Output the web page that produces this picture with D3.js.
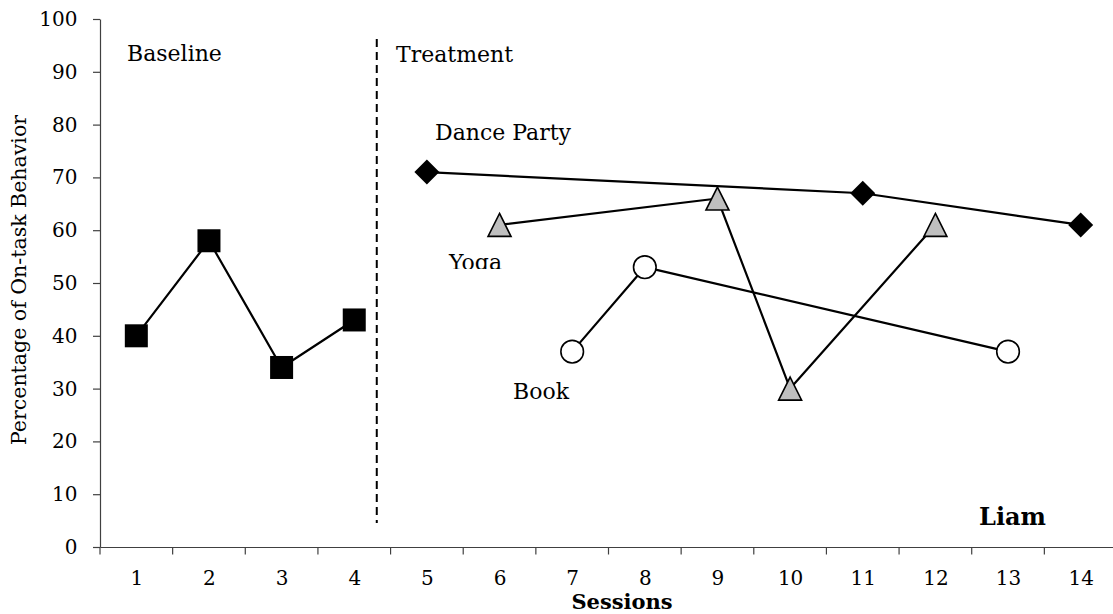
<!DOCTYPE html>
<html>
<head>
<meta charset="utf-8">
<script src="https://cdn.jsdelivr.net/npm/d3@7"></script>
<style>
  html, body { margin: 0; padding: 0; background: #fff; }
  svg { display: block; }
</style>
</head>
<body>
<svg id="chart" width="1113" height="614"></svg>
<script>
// ---- data ----
const sessions = [1,2,3,4,5,6,7,8,9,10,11,12,13,14];
const yTicks = [0,10,20,30,40,50,60,70,80,90,100];

const baselineSessions = [1, 2, 3, 4];
const baselineValues   = [40, 58, 34, 43];

const danceSessions = [5, 11, 14];
const danceValues   = [71, 67, 61];

const yogaSessions = [6, 9, 10, 12];
const yogaValues   = [61, 66, 30, 61];

const bookSessions = [7, 8, 13];
const bookValues   = [37, 53, 37];

const phaseChangeSession = 4.31;

// ---- layout ----
const plotLeft = 100, plotRight = 1117, plotTop = 19, plotBottom = 547;
const FONT = "'DejaVu Serif', serif";

const svg = d3.select("#chart");

const x = d3.scaleLinear().domain([0.5, 14.5]).range([plotLeft, plotRight]);
const y = d3.scaleLinear().domain([0, 100]).range([plotBottom, plotTop]);

const zip = (xs, vs) => xs.map((s, i) => ({s, v: vs[i]}));

// ---- axes ----
const axisColor = "#404040";

const yAxis = svg.append("g")
  .attr("transform", `translate(${plotLeft},0)`)
  .call(d3.axisLeft(y).tickValues(yTicks).tickSize(7).tickSizeOuter(0).tickPadding(15.5));
yAxis.select(".domain").attr("stroke", axisColor).attr("stroke-width", 1.2);
yAxis.selectAll(".tick line").attr("stroke", axisColor).attr("stroke-width", 1.2);
yAxis.selectAll(".tick text").attr("font-family", FONT).attr("font-size", 20).attr("fill", "#000");

const xAxis = svg.append("g")
  .attr("transform", `translate(0,${plotBottom})`)
  .call(d3.axisBottom(x).tickValues(sessions).tickSize(0).tickSizeOuter(0).tickPadding(24).tickFormat(d3.format("d")));
xAxis.select(".domain").attr("stroke", axisColor).attr("stroke-width", 1.2);
xAxis.selectAll(".tick text").attr("font-family", FONT).attr("font-size", 20).attr("fill", "#000");

// tick marks between categories
const boundaries = d3.range(0, sessions.length + 1).map(i => sessions[0] - 0.5 + i);
svg.append("g").selectAll("line").data(boundaries).join("line")
  .attr("x1", d => x(d)).attr("x2", d => x(d))
  .attr("y1", plotBottom).attr("y2", plotBottom + 7.5)
  .attr("stroke", axisColor).attr("stroke-width", 1.2);

// ---- phase change line ----
svg.append("line")
  .attr("x1", x(phaseChangeSession)).attr("x2", x(phaseChangeSession))
  .attr("y1", 39).attr("y2", 523)
  .attr("stroke", "#000").attr("stroke-width", 2)
  .attr("stroke-dasharray", "8,5");

// ---- series ----
const line = d3.line().x(d => x(d.s)).y(d => y(d.v));

const baseData  = zip(baselineSessions, baselineValues);
const danceData = zip(danceSessions, danceValues);
const yogaData  = zip(yogaSessions, yogaValues);
const bookData  = zip(bookSessions, bookValues);

[baseData, danceData, yogaData, bookData].forEach(data => {
  svg.append("path").datum(data)
    .attr("d", line)
    .attr("fill", "none")
    .attr("stroke", "#000")
    .attr("stroke-width", 2.2)
    .attr("stroke-linejoin", "round");
});

// markers
svg.append("g").selectAll("rect").data(baseData).join("rect")
  .attr("x", d => x(d.s) - 11.5).attr("y", d => y(d.v) - 11.5)
  .attr("width", 23).attr("height", 23)
  .attr("fill", "#000");

svg.append("g").selectAll("path").data(danceData).join("path")
  .attr("transform", d => `translate(${x(d.s)},${y(d.v)})`)
  .attr("d", "M0,-12.5L12.5,0L0,12.5L-12.5,0Z")
  .attr("fill", "#000");

svg.append("g").selectAll("path").data(yogaData).join("path")
  .attr("transform", d => `translate(${x(d.s)},${y(d.v)})`)
  .attr("d", "M0,-11.5L11.5,11.5L-11.5,11.5Z")
  .attr("fill", "#bfbfbf")
  .attr("stroke", "#000").attr("stroke-width", 1.6)
  .attr("stroke-linejoin", "miter");

svg.append("g").selectAll("circle").data(bookData).join("circle")
  .attr("cx", d => x(d.s)).attr("cy", d => y(d.v))
  .attr("r", 11.3)
  .attr("fill", "#fff")
  .attr("stroke", "#000").attr("stroke-width", 1.6);

// ---- annotations ----
const defs = svg.append("defs");
defs.append("clipPath").attr("id", "yogaClip")
  .append("rect").attr("x", 440).attr("y", 240).attr("width", 80).attr("height", 29);

const notes = [
  {t: "Baseline",    x: 127, y: 61,  size: 22, weight: "normal"},
  {t: "Treatment",   x: 396, y: 62,  size: 22, weight: "normal"},
  {t: "Dance Party", x: 435, y: 140, size: 22, weight: "normal"},
  {t: "Yoga",        x: 449, y: 270, size: 22, weight: "normal", clip: "url(#yogaClip)"},
  {t: "Book",        x: 513, y: 399, size: 22, weight: "normal"},
  {t: "Liam",        x: 979, y: 525, size: 24, weight: "bold"},
];
svg.append("g").selectAll("text").data(notes).join("text")
  .attr("x", d => d.x).attr("y", d => d.y)
  .attr("font-family", FONT).attr("font-size", d => d.size)
  .attr("font-weight", d => d.weight)
  .attr("clip-path", d => d.clip || null)
  .attr("fill", "#000")
  .text(d => d.t);

// axis titles
svg.append("text")
  .attr("x", 622).attr("y", 609)
  .attr("text-anchor", "middle")
  .attr("font-family", FONT).attr("font-size", 21).attr("font-weight", "bold")
  .text("Sessions");

svg.append("text")
  .attr("transform", "translate(26,280) rotate(-90)")
  .attr("text-anchor", "middle")
  .attr("font-family", FONT).attr("font-size", 20.5)
  .text("Percentage of On-task Behavior");
</script>
</body>
</html>
